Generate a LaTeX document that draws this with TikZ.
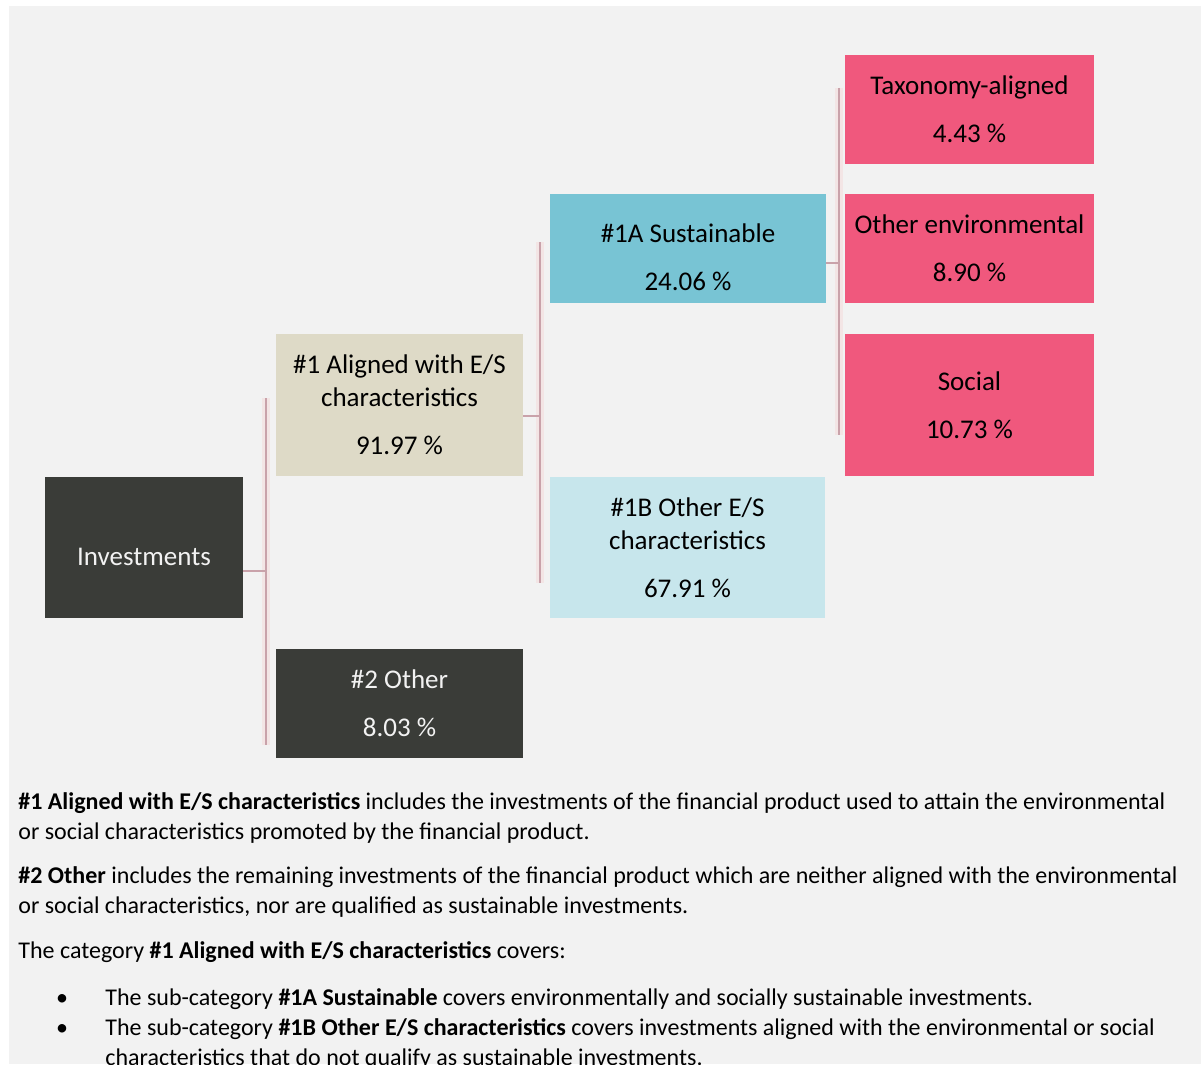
\documentclass[tikz,border=0pt]{standalone}
\usepackage{fontspec}
\setmainfont{Carlito}
\definecolor{backgray}{HTML}{F2F2F2}
\definecolor{darkbox}{HTML}{3A3C38}
\definecolor{beigebox}{HTML}{DEDAC7}
\definecolor{bluebox}{HTML}{78C4D4}
\definecolor{lightbluebox}{HTML}{C7E6EC}
\definecolor{pinkbox}{HTML}{F0587D}
\definecolor{linerose}{HTML}{C9A2AA}
\definecolor{glowrose}{HTML}{F3E5E5}

\begin{document}
\begin{tikzpicture}[x=0.5pt, y=-0.5pt,
    box/.style={inner sep=0pt, align=center, font=\fontsize{13.5}{16.5}\selectfont},
    para/.style={inner sep=0pt, align=left, anchor=north west, font=\fontsize{12}{15}\selectfont},
    glow/.style={draw=glowrose, line width=4pt},
    bracket/.style={draw=linerose, line width=0.8pt}]
    \fill[white] (0,0) rectangle (1203,1064);
    \fill[backgray] (9,6) rectangle (1201,1064);
    \useasboundingbox (0,0) rectangle (1203,1064);

    \node[box, fill=darkbox, text=backgray, minimum width=99pt, minimum height=70.5pt] (inv) at (144,547.5) {\rule{0pt}{18.5pt}Investments};
    \node[box, fill=beigebox, minimum width=123.5pt, minimum height=71pt] (al) at (399.5,405) {\#1 Aligned with E/S\\characteristics\\[7.5pt]91.97 \%};
    \node[box, fill=darkbox, text=backgray, minimum width=123.5pt, minimum height=54.5pt] (oth) at (399.5,703.5) {\#2 Other\\[7.5pt]8.03 \%};
    \node[box, fill=bluebox, minimum width=138pt, minimum height=54.5pt] (sus) at (688,248.5) {\rule{0pt}{18pt}\#1A Sustainable\\[7.5pt]24.06 \%};
    \node[box, fill=lightbluebox, minimum width=137.5pt, minimum height=70.5pt] (esb) at (687.5,547.5) {\#1B Other E/S\\characteristics\\[7.5pt]67.91 \%};
    \node[box, fill=pinkbox, minimum width=124.5pt, minimum height=54.5pt] (tax) at (969.5,109.5) {Taxonomy-aligned\\[7.5pt]4.43 \%};
    \node[box, fill=pinkbox, minimum width=124.5pt, minimum height=54.5pt] (env) at (969.5,248.5) {Other environmental\\[7.5pt]8.90 \%};
    \node[box, fill=pinkbox, minimum width=124.5pt, minimum height=71pt] (soc) at (969.5,405) {Social\\[7.5pt]10.73 \%};

    % brackets
    \coordinate (b1t) at (266,398); \coordinate (b1b) at (266,745); \coordinate (b1m) at (266,571);
    \coordinate (b2t) at (540,242); \coordinate (b2b) at (540,583); \coordinate (b2m) at (540,416);
    \coordinate (b3t) at (839,88); \coordinate (b3b) at (839,435); \coordinate (b3m) at (839,263);
    \draw[glow] (b1t) -- (b1b) (b2t) -- (b2b) (b3t) -- (b3b);
    \draw[bracket] (b1t) -- (b1b) (b1m) -- (inv.east |- b1m);
    \draw[bracket] (b2t) -- (b2b) (b2m) -- (al.east |- b2m);
    \draw[bracket] (b3t) -- (b3b) (b3m) -- (sus.east |- b3m);

    \node[para] (p1) at (18,788) {\strut\textbf{\#1 Aligned with E/S characteristics} includes the investments of the financial product used to attain the environmental\\or social characteristics promoted by the financial product.};
    \node[para] (p2) at (18,862) {\strut\textbf{\#2 Other} includes the remaining investments of the financial product which are neither aligned with the environmental\\or social characteristics, nor are qualified as sustainable investments.};
    \node[para] (p3) at (18,937) {\strut The category \textbf{\#1 Aligned with E/S characteristics} covers:};
    \node[para] (l1) at (105,984) {\strut The sub-category \textbf{\#1A Sustainable} covers environmentally and socially sustainable investments.\\The sub-category \textbf{\#1B Other E/S characteristics} covers investments aligned with the environmental or social\\characteristics that do not qualify as sustainable investments.};
    \node[para, anchor=base] (d1) at (62,1005) {\textbullet};
    \node[para, anchor=base] (d2) at (62,1035) {\textbullet};
\end{tikzpicture}
\end{document}
